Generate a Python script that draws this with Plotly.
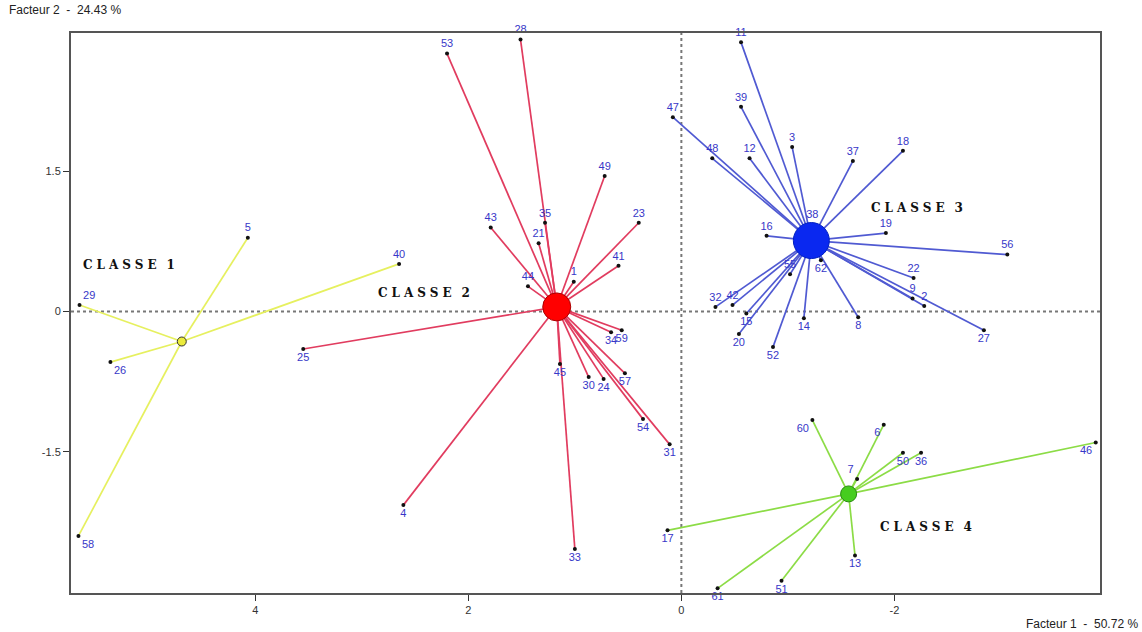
import plotly.graph_objects as go

# ---- data (Facteur 1, Facteur 2) ----
c1_ids = ["5", "40", "29", "26", "58"]
c1_x = [4.07, 2.65, 5.65, 5.36, 5.66]
c1_y = [0.79, 0.51, 0.07, -0.54, -2.40]
c1_center = (4.69, -0.32)

c2_ids = ["53", "28", "49", "23", "43", "35", "21", "41", "1", "44",
          "25", "4", "33", "45", "30", "24", "57", "54", "31", "34", "59"]
c2_x = [2.20, 1.51, 0.72, 0.40, 1.79, 1.28, 1.34, 0.59, 1.01, 1.44,
        3.55, 2.61, 1.00, 1.14, 0.87, 0.73, 0.53, 0.36, 0.11, 0.66, 0.56]
c2_y = [2.76, 2.91, 1.45, 0.95, 0.90, 0.95, 0.73, 0.49, 0.32, 0.27,
        -0.40, -2.07, -2.54, -0.56, -0.70, -0.72, -0.66, -1.15, -1.42, -0.22, -0.20]
c2_center = (1.17, 0.05)

c3_ids = ["11", "39", "47", "48", "12", "3", "37", "18", "38", "16", "19", "56",
          "55", "62", "22", "9", "2", "27", "32", "42", "15", "14", "8", "20", "52"]
c3_x = [-0.56, -0.56, 0.08, -0.29, -0.64, -1.04, -1.61, -2.08, -1.23, -0.80, -1.92, -3.06,
        -1.02, -1.31, -2.18, -2.17, -2.28, -2.84, -0.32, -0.48, -0.61, -1.15, -1.66, -0.54, -0.86]
c3_y = [2.88, 2.19, 2.08, 1.64, 1.64, 1.76, 1.61, 1.72, 0.93, 0.81, 0.84, 0.61,
        0.40, 0.55, 0.36, 0.14, 0.06, -0.20, 0.05, 0.07, -0.02, -0.07, -0.06, -0.24, -0.38]
c3_center = (-1.22, 0.76)

c4_ids = ["60", "6", "50", "36", "7", "46", "17", "13", "51", "61"]
c4_x = [-1.23, -1.90, -2.08, -2.25, -1.65, -3.89, 0.13, -1.63, -0.94, -0.34]
c4_y = [-1.16, -1.21, -1.51, -1.51, -1.79, -1.40, -2.34, -2.61, -2.88, -2.96]
c4_center = (-1.57, -1.95)

class_names = ["CLASSE 1", "CLASSE 2", "CLASSE 3", "CLASSE 4"]
x_ticks = [4, 2, 0, -2]
y_ticks = [1.5, 0, -1.5]
x_title = "Facteur 1  -  50.72 %"
y_title = "Facteur 2  -  24.43 %"

# ---- styles ----
c1_pos = ["top center", "top center", "top right", "bottom right", "bottom right"]
c2_pos = ["top center"] * 10 + ["bottom center"] * 11
c3_pos = ["top center"] * 13 + ["bottom center", "top center", "top center", "top center",
          "bottom center", "top center", "top center", "bottom center", "bottom center",
          "bottom center", "bottom center", "bottom center"]
c4_pos = ["bottom left", "bottom left", "bottom center", "bottom center", "top left",
          "bottom left", "bottom center", "bottom center", "bottom center", "bottom center"]

classes = [
    (c1_ids, c1_x, c1_y, c1_center, c1_pos, "rgb(230,240,95)", "rgb(235,235,60)", 9, "#333"),
    (c2_ids, c2_x, c2_y, c2_center, c2_pos, "rgb(225,60,95)", "rgb(255,0,0)", 28, "#a00"),
    (c3_ids, c3_x, c3_y, c3_center, c3_pos, "rgb(80,90,210)", "rgb(10,40,240)", 36, "#0020c0"),
    (c4_ids, c4_x, c4_y, c4_center, c4_pos, "rgb(140,220,70)", "rgb(70,205,30)", 16, "#2a8a10"),
]

fig = go.Figure()

# zero reference lines
fig.add_shape(type="line", x0=0, x1=0, y0=-3.01, y1=2.98, xref="x", yref="y",
              line=dict(color="#777", width=2, dash="dot"), layer="below")
fig.add_shape(type="line", x0=5.73, x1=-3.93, y0=0, y1=0, xref="x", yref="y",
              line=dict(color="#777", width=2, dash="dot"), layer="below")

for ids, xs, ys, (cx, cy), pos, lcol, ccol, csize, cline in classes:
    lx, ly = [], []
    for x, y in zip(xs, ys):
        lx += [cx, x, None]
        ly += [cy, y, None]
    fig.add_trace(go.Scatter(x=lx, y=ly, mode="lines",
                             line=dict(color=lcol, width=1.7),
                             hoverinfo="skip", showlegend=False))

for ids, xs, ys, (cx, cy), pos, lcol, ccol, csize, cline in classes:
    fig.add_trace(go.Scatter(x=xs, y=ys, mode="markers+text", text=ids,
                             textposition=pos, cliponaxis=False,
                             textfont=dict(family="Liberation Sans, Arial", size=11,
                                           color="rgb(55,55,200)"),
                             marker=dict(color="#111", size=4),
                             showlegend=False))
    fig.add_trace(go.Scatter(x=[cx], y=[cy], mode="markers", cliponaxis=False,
                             marker=dict(color=ccol, size=csize,
                                         line=dict(color=cline, width=1)),
                             showlegend=False))

# class labels (wide, letter-spaced bold serif)
label_pos = [(5.64, 0.50), (2.87, 0.20), (-1.76, 1.11), (-1.85, -2.30)]
for name, (lx, ly) in zip(class_names, label_pos):
    word, num = name.split(" ")
    spaced = "\u2004".join(word) + "\u2002\u2004" + num
    fig.add_annotation(x=lx, y=ly, text="<b>" + spaced + "</b>", showarrow=False,
                       xanchor="left", yanchor="middle",
                       font=dict(family="DejaVu Serif", size=12, color="#111"))

fig.add_annotation(xref="paper", yref="paper", x=-0.062, y=1.0, yshift=14,
                   text=y_title, showarrow=False, xanchor="left", yanchor="bottom",
                   font=dict(family="Liberation Sans, Arial", size=12, color="#222"))
fig.add_annotation(xref="paper", yref="paper", x=1.039, y=0, yshift=-22,
                   text=x_title, showarrow=False, xanchor="right", yanchor="top",
                   font=dict(family="Liberation Sans, Arial", size=12, color="#222"))

fig.update_layout(
    width=1142, height=632,
    margin=dict(l=71, r=42, t=33, b=39),
    paper_bgcolor="white", plot_bgcolor="white",
    xaxis=dict(range=[5.73, -3.93], tickvals=x_ticks, ticktext=[str(v) for v in x_ticks],
               showgrid=False, zeroline=False, showline=True, mirror=True,
               linecolor="#555", linewidth=2, ticks="outside", ticklen=6,
               tickcolor="#333", tickfont=dict(family="Liberation Sans, Arial", size=11, color="#333")),
    yaxis=dict(range=[-3.01, 2.98], tickvals=y_ticks, ticktext=["1.5", "0", "-1.5"],
               showgrid=False, zeroline=False, showline=True, mirror=True,
               linecolor="#555", linewidth=2, ticks="outside", ticklen=6,
               tickcolor="#333", tickfont=dict(family="Liberation Sans, Arial", size=11, color="#333")),
)

fig.write_html("out.html", config={"displayModeBar": False},
               post_script="document.body.style.margin='0';document.body.style.overflow='hidden';")
